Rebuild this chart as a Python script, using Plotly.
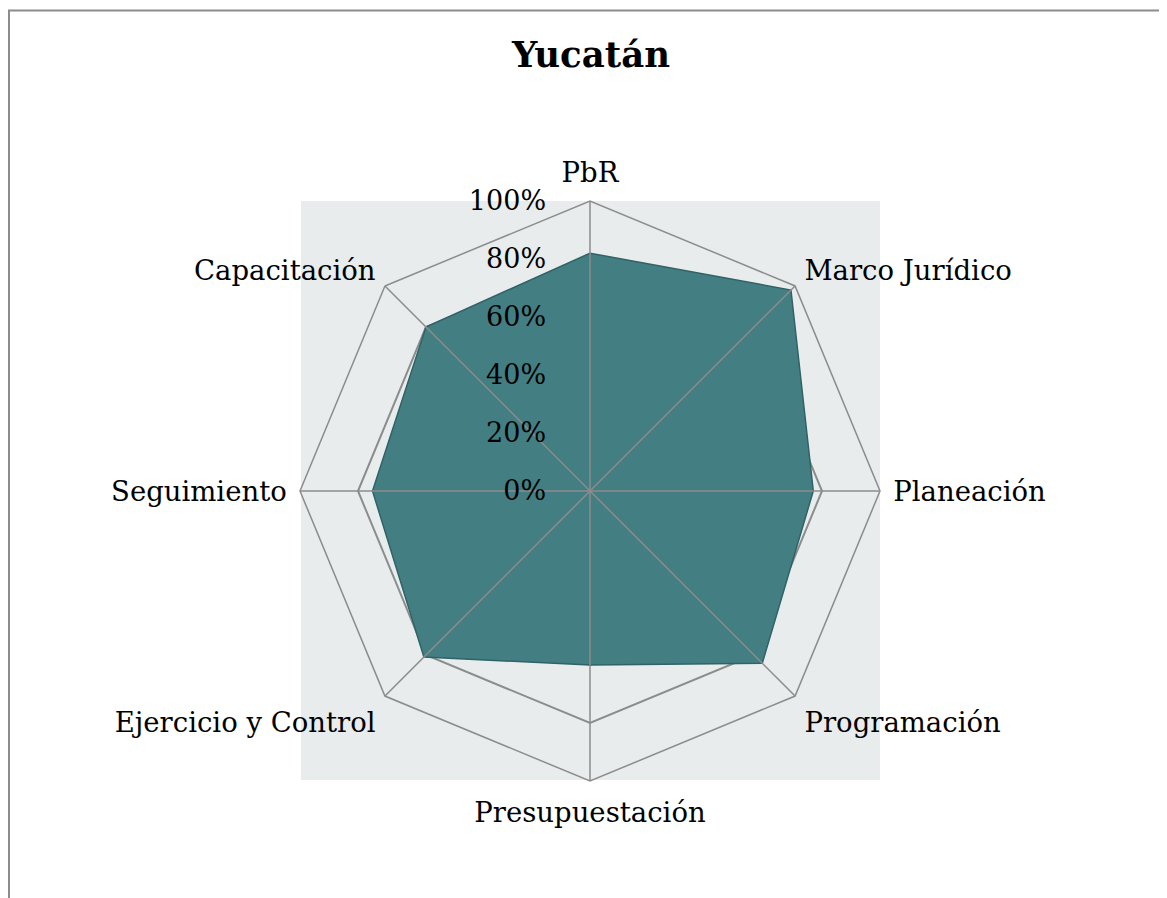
import plotly.graph_objects as go

categories = ["PbR", "Marco Jurídico", "Planeación", "Programación",
              "Presupuestación", "Ejercicio y Control", "Seguimiento", "Capacitación"]
values = [82, 98, 77, 84, 60, 81, 75, 80]
tick_vals = [0, 20, 40, 60, 80, 100]
tick_text = ["0%", "20%", "40%", "60%", "80%", "100%"]

FONT = "DejaVu Serif"
GRID = "#8c8c8c"
BG = "#e8eced"

W, H = 1167, 898
OFF = 8  # the page body adds an 8px margin


def px_x(x):
    return (x - OFF) / W


def px_y(y):
    return 1 - (y - OFF) / H


fig = go.Figure()

fig.add_trace(go.Scatterpolar(
    r=values + values[:1],
    theta=categories + categories[:1],
    mode="lines",
    fill="toself",
    fillcolor="#437e82",
    line=dict(color="#2f6367", width=1.5),
    hoverinfo="r+theta",
))

# spokes drawn above the filled area, as in the original
spoke_r, spoke_t = [], []
for c in categories:
    spoke_r += [0, tick_vals[-1], None]
    spoke_t += [c, c, None]
fig.add_trace(go.Scatterpolar(
    r=spoke_r, theta=spoke_t, mode="lines",
    line=dict(color=GRID, width=1.5), hoverinfo="skip",
))

fig.update_layout(
    width=W, height=H,
    margin=dict(l=0, r=0, t=0, b=0),
    paper_bgcolor="white",
    showlegend=False,
    font=dict(family=FONT, color="black"),
    title=dict(text="<b>Yucatán</b>", x=px_x(591), xanchor="center", y=px_y(55),
               yanchor="middle", font=dict(family=FONT, size=35.5)),
    polar=dict(
        domain=dict(x=[px_x(300), px_x(880)], y=[px_y(781), px_y(201)]),
        bgcolor=BG,
        gridshape="linear",
        angularaxis=dict(
            rotation=90, direction="clockwise",
            showgrid=False, showline=True, linecolor=GRID, linewidth=1.5,
            ticks="outside", ticklen=7, tickcolor="rgba(0,0,0,0)",
            tickfont=dict(size=27.5, family=FONT),
        ),
        radialaxis=dict(
            range=[0, 100], angle=90, side="counterclockwise",
            tickvals=tick_vals, ticktext=tick_text, tickangle=90,
            showline=False, ticks="outside", ticklen=34, tickcolor="rgba(0,0,0,0)",
            gridcolor=GRID, gridwidth=1.5,
            tickfont=dict(size=27, family=FONT),
        ),
    ),
    shapes=[
        dict(type="rect", xref="paper", yref="paper", layer="below",
             x0=px_x(301), x1=px_x(880), y0=px_y(780), y1=px_y(201),
             fillcolor=BG, line=dict(width=0)),
        dict(type="rect", xref="paper", yref="paper", layer="below",
             x0=px_x(9), x1=1.05, y0=-0.05, y1=px_y(10.5),
             fillcolor="rgba(0,0,0,0)", line=dict(color="#8c8c8c", width=2)),
    ],
)

fig.write_html("out.html")
